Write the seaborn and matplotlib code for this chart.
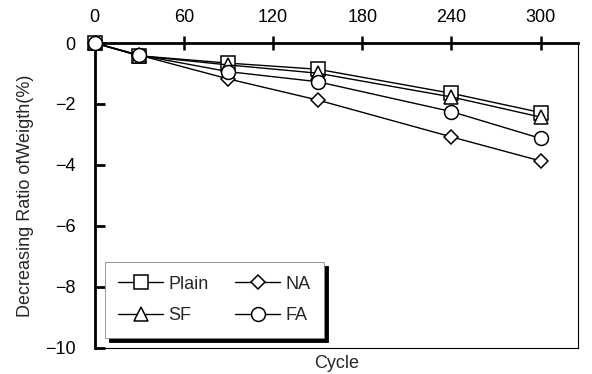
import pandas as pd
import numpy as np
from matplotlib import pyplot as plt
import seaborn as sns

cycles = [0, 30, 90, 150, 240, 300]
plain = [0, -0.42, -0.66, -0.86, -1.65, -2.28]
na = [0, -0.40, -1.18, -1.87, -3.08, -3.87]
sf = [0, -0.42, -0.72, -0.99, -1.77, -2.43]
fa = [0, -0.40, -0.94, -1.27, -2.25, -3.13]
# legend is filled column by column: Plain/SF in col 1, NA/FA in col 2
series = ['Plain', 'SF', 'NA', 'FA']
markers = {'Plain': 's', 'NA': 'D', 'SF': '^', 'FA': 'o'}
values = {'Plain': plain, 'NA': na, 'SF': sf, 'FA': fa}

df = pd.DataFrame({'Cycle': cycles * 4,
                   'ratio': sum([values[s] for s in series], []),
                   'mix': sum([[s] * len(cycles) for s in series], [])})

sns.set_style('ticks')
plt.rcParams['font.family'] = ['Liberation Sans', 'DejaVu Sans']
fs = 13

fig = plt.figure(figsize=(5.92, 3.74), dpi=100)
ax = fig.add_axes([0.160, 0.070, 0.816, 0.815])

sizes = {'Plain': 9.5, 'SF': 10, 'NA': 7.5, 'FA': 10}
for s in series:
    d = df[df.mix == s]
    sns.lineplot(data=d, x='Cycle', y='ratio', ax=ax, color='black', lw=1,
                 marker=markers[s], markersize=sizes[s],
                 markerfacecolor='white', markeredgecolor='black',
                 markeredgewidth=1.1, label=s, clip_on=False, zorder=3)

ax.set_xlim(0, 325)
ax.set_ylim(-10, 0)
ax.xaxis.tick_top()
ax.set_xticks(range(0, 301, 60))
ax.set_yticks(range(-10, 1, 2))
ax.tick_params(axis='x', direction='inout', length=10, width=1.8,
               labelsize=fs, colors='black', pad=7)
ax.tick_params(axis='y', direction='in', length=7, width=2,
               labelsize=fs, colors='black', pad=14)
for side in ['top', 'left']:
    ax.spines[side].set_linewidth(2)
for side in ['bottom', 'right']:
    ax.spines[side].set_linewidth(0.8)
for sp in ax.spines.values():
    sp.set_color('black')

ax.set_ylabel('Decreasing Ratio ofWeigth(%)', fontsize=fs)
ax.yaxis.set_label_coords(-0.126, 0.5)
ax.set_xlabel('')
ax.text(0.5, -0.022, 'Cycle', transform=ax.transAxes, ha='center', va='top',
        fontsize=fs)

leg = ax.legend(loc='lower left', bbox_to_anchor=(0.021, 0.033), ncol=2,
                fontsize=fs, frameon=True, fancybox=False,
                shadow={'color': 'black', 'alpha': 1, 'ox': 3, 'oy': -3},
                handlelength=2.45, handletextpad=0.3, columnspacing=1.5,
                borderpad=0.75, borderaxespad=0, labelspacing=0.8)
leg.get_frame().set_edgecolor('#888888')
leg.get_frame().set_linewidth(0.6)

fig.savefig('out.png', dpi=100)
